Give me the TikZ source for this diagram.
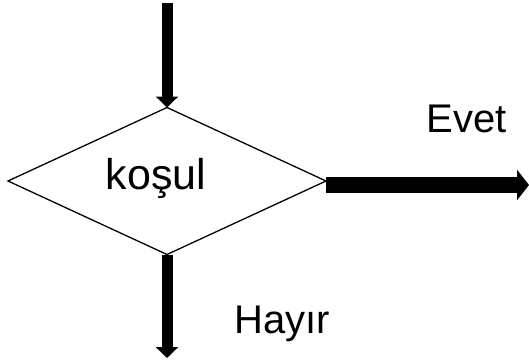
\documentclass[tikz,border=0pt]{standalone}
\usepackage{fontspec}
\setmainfont{Liberation Sans}
\usetikzlibrary{shapes.geometric,arrows.meta}
\begin{document}
\begin{tikzpicture}[x=1pt,y=-1pt,
  cond/.style={draw,diamond,line width=1.3pt,minimum width=318pt,minimum height=147pt,inner sep=0pt,outer sep=0pt},
  flow/.style={line width=11pt,-{Triangle[width=22pt,length=11pt]}},
  yesflow/.style={line width=16pt,-{Triangle[width=30pt,length=12pt]}},
  lbl/.style={anchor=base,inner sep=0pt,font=\fontsize{40pt}{44pt}\selectfont}]
\useasboundingbox (0,0) rectangle (529,361);
\node[cond] (d) at (167,181) {};
\coordinate (in) at (167,3);
\coordinate (no) at (167,358);
\coordinate (yes) at (529,185);
\draw[flow] (in) -- (d.north);
\draw[flow] (d.south) -- (no);
\draw[yesflow] ([yshift=-4pt]d.east) -- (yes);
\node[lbl,font=\fontsize{43pt}{48pt}\selectfont] (k) at (156,189) {koşul};
\node[lbl] (e) at (467,132) {Evet};
\node[lbl] (h) at (282.5,333) {Hayır};
\end{tikzpicture}
\end{document}
